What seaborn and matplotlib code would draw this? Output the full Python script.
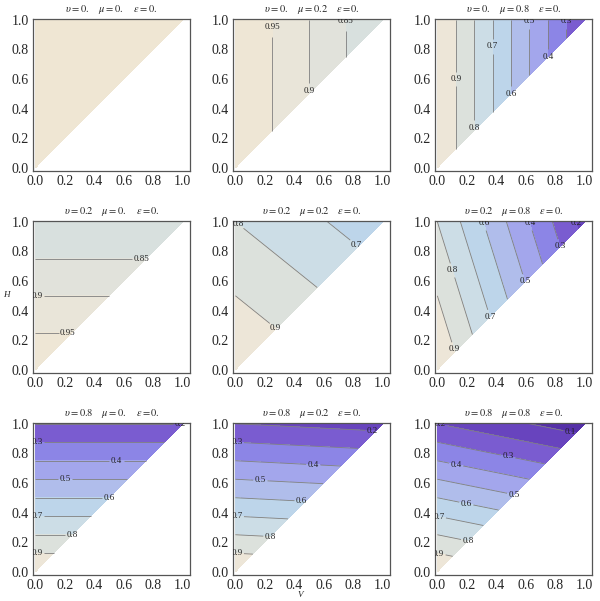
import numpy as np
import matplotlib
matplotlib.use('Agg')
import matplotlib.pyplot as plt
import seaborn as sns
from matplotlib.colors import LinearSegmentedColormap

sns.set_theme(style='white')
plt.rcParams['font.family'] = ['Liberation Serif', 'DejaVu Serif']
plt.rcParams['mathtext.fontset'] = 'stix'

# panel parameters, row by row
upsilon = [0.0, 0.0, 0.0, 0.2, 0.2, 0.2, 0.8, 0.8, 0.8]
mu = [0.0, 0.2, 0.8, 0.0, 0.2, 0.8, 0.0, 0.2, 0.8]
eps = [0.0] * 9

# filled contour boundaries per panel (inner ones are drawn as lines)
fill_levels = [
    [0.95, 1.05],
    [0.8, 0.85, 0.9, 0.95, 1.0],
    [0.2, 0.3, 0.4, 0.5, 0.6, 0.7, 0.8, 0.9, 1.0],
    [0.8, 0.85, 0.9, 0.95, 1.0],
    [0.6, 0.7, 0.8, 0.9, 1.0],
    [0.1, 0.2, 0.3, 0.4, 0.5, 0.6, 0.7, 0.8, 0.9, 1.0],
    [0.1, 0.2, 0.3, 0.4, 0.5, 0.6, 0.7, 0.8, 0.9, 1.0],
    [0.1, 0.2, 0.3, 0.4, 0.5, 0.6, 0.7, 0.8, 0.9, 1.0],
    [0.0, 0.1, 0.2, 0.3, 0.4, 0.5, 0.6, 0.7, 0.8, 0.9, 1.0],
]

# where the contour labels sit (V, H)
label_pos = [
    [],
    [(0.25, 0.95), (0.5, 0.52), (0.75, 0.99)],
    [(0.125, 0.6), (0.25, 0.27), (0.375, 0.82), (0.5, 0.5), (0.625, 0.99),
     (0.75, 0.74), (0.875, 0.99)],
    [(0.22, 0.25), (0.01, 0.5), (0.72, 0.75)],
    [(0.27, 0.28), (0.02, 0.99), (0.8, 0.82)],
    [(0.12, 0.14), (0.1, 0.67), (0.35, 0.35), (0.32, 0.99), (0.6, 0.6),
     (0.63, 0.99), (0.8, 0.82), (0.93, 0.99)],
    [(0.01, 0.125), (0.25, 0.25), (0.01, 0.375), (0.5, 0.5), (0.2, 0.625),
     (0.55, 0.75), (0.01, 0.875), (0.98, 0.99)],
    [(0.01, 0.12), (0.24, 0.24), (0.01, 0.37), (0.45, 0.47), (0.17, 0.62),
     (0.53, 0.73), (0.01, 0.87), (0.93, 0.95)],
    [(0.01, 0.13), (0.22, 0.22), (0.01, 0.37), (0.2, 0.48), (0.54, 0.54),
     (0.13, 0.74), (0.48, 0.78), (0.02, 0.99), (0.9, 0.93)],
]

cmap = LinearSegmentedColormap.from_list('dens', [
    (0.0, '#4e2aa0'), (0.05, '#5530a8'), (0.15, '#6844be'), (0.25, '#7a5cd0'),
    (0.35, '#8c85e6'), (0.45, '#a3a6ec'), (0.55, '#b0bdeb'), (0.65, '#bdd5ea'),
    (0.75, '#ccdde6'), (0.85, '#dce1dc'), (0.95, '#ede6d8'), (1.0, '#efe6d3'),
])

# curvilinear grid covering exactly the region H >= V
s, t = np.meshgrid(np.linspace(0, 1, 300), np.linspace(0, 1, 300))
V = s * t
H = t

fig = plt.figure(figsize=(6, 6.01), dpi=100)

lefts = [33, 233, 435]
tops = [19, 221, 423]
w, h = 157, 152

for i in range(9):
    r, c = divmod(i, 3)
    ax = fig.add_axes([lefts[c] / 600, 1 - (tops[r] + h) / 601, w / 600, h / 601])
    Z = upsilon[i] * (1 - H) + (1 - upsilon[i]) * (1 - mu[i] * V) + 0 * V
    lv = fill_levels[i]
    ax.contourf(V, H, Z, levels=lv, cmap=cmap, vmin=0, vmax=1)
    lines = lv[1:-1]
    if lines:
        cs = ax.contour(V, H, Z, levels=lines, colors='#7f7f7f', linewidths=0.6)
        labels = ax.clabel(cs, lines, manual=label_pos[i], inline=True,
                           inline_spacing=2, fontsize=6.5, fmt='%g',
                           colors='#222222')
        for txt in labels:
            txt.set_rotation(0)
    ax.set_xlim(-0.016, 1.05)
    ax.set_ylim(-0.022, 1.005)
    ax.set_xticks([0, 0.2, 0.4, 0.6, 0.8, 1.0])
    ax.set_yticks([0, 0.2, 0.4, 0.6, 0.8, 1.0])
    ax.set_xticklabels(['0.0', '0.2', '0.4', '0.6', '0.8', '1.0'])
    ax.set_yticklabels(['0.0', '0.2', '0.4', '0.6', '0.8', '1.0'])
    ax.tick_params(direction='in', length=0, labelsize=10, pad=3)
    for sp in ax.spines.values():
        sp.set_color('#555555')
        sp.set_linewidth(0.9)
    mu_txt = ('%g.' % mu[i]) if mu[i] == 0 else ('%g' % mu[i])
    ups_txt = ('%g.' % upsilon[i]) if upsilon[i] == 0 else ('%g' % upsilon[i])
    ax.set_title(r'$\upsilon = %s\quad\; \mu = %s\quad\; \epsilon = %g.$'
                 % (ups_txt, mu_txt, eps[i]), fontsize=7.5, pad=5)

fig.text(6 / 600, 1 - 295 / 601, 'H', style='italic', fontsize=6.5,
         ha='center', va='center')
fig.text(300 / 600, 1 - 595 / 601, 'V', style='italic', fontsize=6.5,
         ha='center', va='center')

fig.savefig('out.png', dpi=100)
